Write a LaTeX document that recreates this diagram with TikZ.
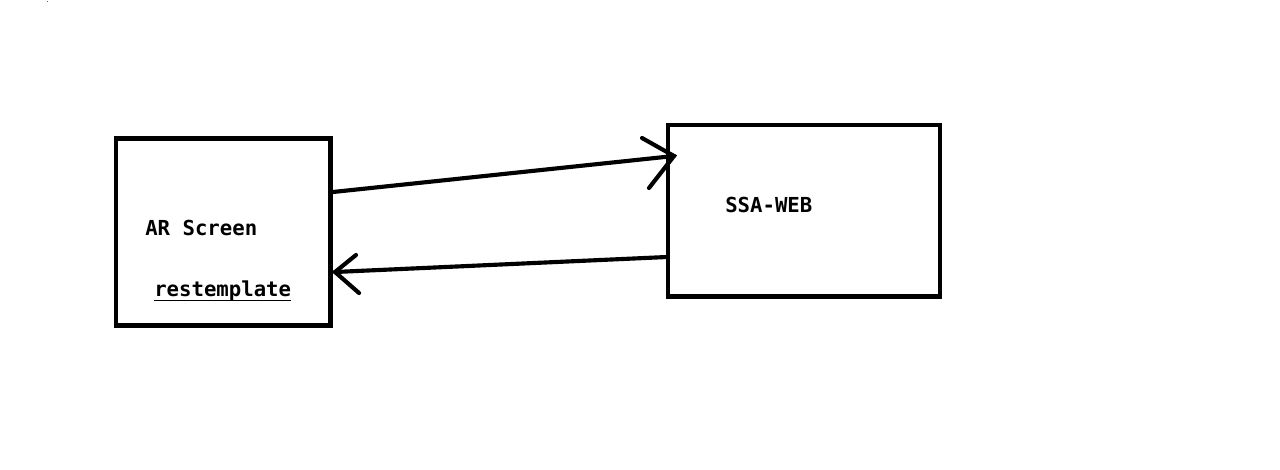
\documentclass[tikz,border=0pt]{standalone}
\usepackage{fontspec}
\newfontfamily\monob{DejaVu Sans Mono}[BoldFont={DejaVu Sans Mono Bold}]
\begin{document}
\begin{tikzpicture}[x=0.75pt,y=-0.75pt,
  boxstyle/.style={draw=black,line width=3.4pt,inner sep=0pt,fill=white},
  lbl/.style={inner sep=0pt,font=\monob\bfseries\fontsize{15.5pt}{18pt}\selectfont,text=black},
  conn/.style={draw=black,line width=3.1pt,line cap=round}]
\useasboundingbox (0,0) rectangle (1280,470);
\fill[white] (0,0) rectangle (1280,470);
\fill[black!60] (46.5,1) rectangle (47.5,2);
\node[boxstyle,minimum width=160.9pt,minimum height=140.25pt] (L) at (223.25,232) {};
\node[boxstyle,minimum width=204pt,minimum height=128.6pt] (R) at (804,210.75) {};
\node[lbl,anchor=base west] (ar) at (145,236) {AR Screen};
\node[lbl,anchor=base west] (rt) at (154,296.5) {restemplate};
\node[lbl,anchor=base west] (ssa) at (725,212.7) {SSA-WEB};
\draw[black,line width=0.8pt] ([yshift=-3.2pt]rt.base west) -- ([yshift=-3.2pt]rt.base east);
% arrow 1
\coordinate (a1s) at (333,192);
\coordinate (a1t) at (674,156);
\coordinate (a1u) at (642,138);
\coordinate (a1d) at (649,188);
\draw[conn] (a1s) -- (a1t);
\draw[conn] (a1u) -- (a1t) -- (a1d);
% arrow 2
\coordinate (a2s) at (667,257);
\coordinate (a2t) at (335,272);
\coordinate (a2u) at (356,255);
\coordinate (a2d) at (359,293);
\draw[conn] (a2s) -- (a2t);
\draw[conn] (a2u) -- (a2t) -- (a2d);
\end{tikzpicture}
\end{document}
